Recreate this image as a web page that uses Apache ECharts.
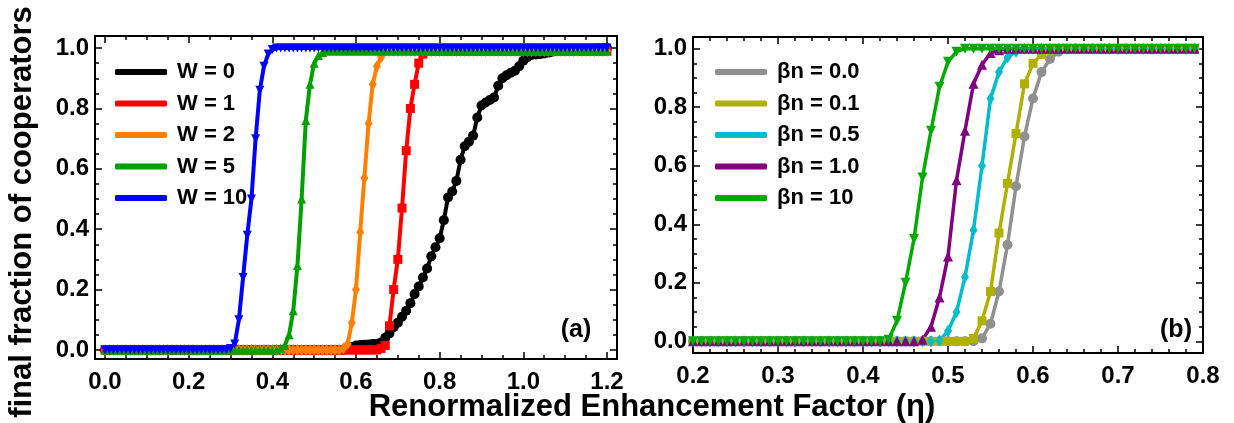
<!DOCTYPE html>
<html><head><meta charset="utf-8">
<script src="https://cdn.jsdelivr.net/npm/echarts@6/dist/echarts.min.js"></script>
<style>html,body{margin:0;padding:0;background:#fff}#c{width:1234px;height:423px}</style>
</head><body><div id="c"></div>
<script>
// ---------- Panel (a) ----------
const etaA = [
0,0.01,0.02,0.03,0.04,0.05,0.06,0.07,0.08,0.09,
0.1,0.11,0.12,0.13,0.14,0.15,0.16,0.17,0.18,0.19,
0.2,0.21,0.22,0.23,0.24,0.25,0.26,0.27,0.28,0.29,
0.3,0.31,0.32,0.33,0.34,0.35,0.36,0.37,0.38,0.39,
0.4,0.41,0.42,0.43,0.44,0.45,0.46,0.47,0.48,0.49,
0.5,0.51,0.52,0.53,0.54,0.55,0.56,0.57,0.58,0.59,
0.6,0.61,0.62,0.63,0.64,0.65,0.66,0.67,0.68,0.69,
0.7,0.71,0.72,0.73,0.74,0.75,0.76,0.77,0.78,0.79,
0.8,0.81,0.82,0.83,0.84,0.85,0.86,0.87,0.88,0.89,
0.9,0.91,0.92,0.93,0.94,0.95,0.96,0.97,0.98,0.99,
1.0,1.01,1.02,1.03,1.04,1.05,1.06,1.07,1.08,1.09,
1.1,1.11,1.12,1.13,1.14,1.15,1.16,1.17,1.18,1.19,
1.2];
const W0 = [
0,0,0,0,0,0,0,0,0,0,
0,0,0,0,0,0,0,0,0,0,
0,0,0,0,0,0,0,0,0,0,
0,0,0,0,0,0,0,0,0,0,
0,0,0,0,0,0,0,0,0,0,
0,0,0,0,0,0,0,0,
0.005,0.01,
0.015,0.016,0.017,0.018,0.02,0.02,0.025,0.04,0.055,0.075,
0.09,0.11,0.13,0.155,0.185,0.21,0.24,0.27,0.31,0.34,
0.37,0.43,0.505,0.525,0.56,0.63,0.675,0.69,0.71,0.77,
0.81,0.82,0.828,0.836,0.875,0.90,0.91,0.918,0.925,0.94,
0.958,0.97,0.977,0.979,0.98,0.982,0.985,0.988,0.991,0.992,
0.993,0.994,0.995,0.996,0.997,0.997,0.998,0.998,0.999,0.999,
1.0];
const W1 = [
0,0,0,0,0,0,0,0,0,0,
0,0,0,0,0,0,0,0,0,0,
0,0,0,0,0,0,0,0,0,0,
0,0,0,0,0,0,0,0,0,0,
0,0,0,0,0,0,0,0,0,0,
0,0,0,0,0,0,0,0,0,0,
0,0,0,0,0,0,
0.005,0.015,0.08,0.20,
0.30,0.47,0.66,0.80,0.88,0.95,0.98,
0.99,0.99,0.99,
0.99,0.99,0.99,0.99,0.99,0.99,0.99,0.99,0.99,0.99,
0.99,0.99,0.99,0.99,0.99,0.99,0.99,0.99,0.99,0.99,
0.99,0.99,0.99,0.99,0.99,0.99,0.99,0.99,0.99,0.99,
0.99,0.99,0.99,0.99,0.99,0.99,0.99,0.99,0.99,0.99,
0.99];
const W2 = [
0,0,0,0,0,0,0,0,0,0,
0,0,0,0,0,0,0,0,0,0,
0,0,0,0,0,0,0,0,0,0,
0,0,0,0,0,0,0,0,0,0,
0,0,0,0,0,0,0,0,0,0,
0,0,0,0,0,0,0,
0.005,0.02,0.09,
0.20,0.39,0.57,0.75,0.88,0.94,0.97,
0.99,0.99,0.99,
0.99,0.99,0.99,0.99,0.99,0.99,0.99,0.99,0.99,0.99,
0.99,0.99,0.99,0.99,0.99,0.99,0.99,0.99,0.99,0.99,
0.99,0.99,0.99,0.99,0.99,0.99,0.99,0.99,0.99,0.99,
0.99,0.99,0.99,0.99,0.99,0.99,0.99,0.99,0.99,0.99,
0.99,0.99,0.99,0.99,0.99,0.99,0.99,0.99,0.99,0.99,
0.99];
const W5 = [
0,0,0,0,0,0,0,0,0,0,
0,0,0,0,0,0,0,0,0,0,
0,0,0,0,0,0,0,0,0,0,
0,0,0,0,0,0,0,0,0,0,
0,0,
0.005,0.015,0.05,0.13,0.28,0.50,0.76,0.88,
0.95,0.975,0.985,
0.99,0.99,0.99,0.99,0.99,0.99,0.99,
0.99,0.99,0.99,0.99,0.99,0.99,0.99,0.99,0.99,0.99,
0.99,0.99,0.99,0.99,0.99,0.99,0.99,0.99,0.99,0.99,
0.99,0.99,0.99,0.99,0.99,0.99,0.99,0.99,0.99,0.99,
0.99,0.99,0.99,0.99,0.99,0.99,0.99,0.99,0.99,0.99,
0.99,0.99,0.99,0.99,0.99,0.99,0.99,0.99,0.99,0.99,
0.99,0.99,0.99,0.99,0.99,0.99,0.99,0.99,0.99,0.99,
0.99];
const W10 = [
0,0,0,0,0,0,0,0,0,0,
0,0,0,0,0,0,0,0,0,0,
0,0,0,0,0,0,0,0,0,0,
0.005,0.02,0.10,0.24,0.38,0.50,0.70,0.86,0.94,0.98,
0.995,1,1,1,1,1,1,1,1,1,
1,1,1,1,1,1,1,1,1,1,
1,1,1,1,1,1,1,1,1,1,
1,1,1,1,1,1,1,1,1,1,
1,1,1,1,1,1,1,1,1,1,
1,1,1,1,1,1,1,1,1,1,
1,1,1,1,1,1,1,1,1,1,
1,1,1,1,1,1,1,1,1,1,
1];
const namesA = ['W = 0','W = 1','W = 2','W = 5','W = 10'];
const xTicksA = [0,0.2,0.4,0.6,0.8,1.0,1.2];
const xMinorA = [0.05,0.1,0.15,0.25,0.3,0.35,0.45,0.5,0.55,0.65,0.7,0.75,0.85,0.9,0.95,1.05,1.1,1.15];

// ---------- Panel (b) ----------
const etaB = [
0.2,0.21,0.22,0.23,0.24,0.25,0.26,0.27,0.28,0.29,
0.3,0.31,0.32,0.33,0.34,0.35,0.36,0.37,0.38,0.39,
0.4,0.41,0.42,0.43,0.44,0.45,0.46,0.47,0.48,0.49,
0.5,0.51,0.52,0.53,0.54,0.55,0.56,0.57,0.58,0.59,
0.6,0.61,0.62,0.63,0.64,0.65,0.66,0.67,0.68,0.69,
0.7,0.71,0.72,0.73,0.74,0.75,0.76,0.77,0.78,0.79];
const B00 = [
0,0,0,0,0,0,0,0,0,0,
0,0,0,0,0,0,0,0,0,0,
0,0,0,0,0,0,0,0,0,0,
0,0,0,0,0.01,0.06,0.17,0.33,0.53,0.70,
0.83,0.92,0.965,0.99,1,1,1,1,1,1,
1,1,1,1,1,1,1,1,1,1];
const B01 = [
0,0,0,0,0,0,0,0,0,0,
0,0,0,0,0,0,0,0,0,0,
0,0,0,0,0,0,0,0,0,0,
0,0,0,0.01,0.07,0.17,0.37,0.54,0.71,0.88,
0.95,0.98,0.995,1,1,1,1,1,1,1,
1,1,1,1,1,1,1,1,1,1];
const B05 = [
0,0,0,0,0,0,0,0,0,0,
0,0,0,0,0,0,0,0,0,0,
0,0,0,0,0,0,0,0,0,0.003,
0.035,0.10,0.22,0.38,0.60,0.83,0.92,0.97,0.99,1,
1,1,1,1,1,1,1,1,1,1,
1,1,1,1,1,1,1,1,1,1];
const B10 = [
0,0,0,0,0,0,0,0,0,0,
0,0,0,0,0,0,0,0,0,0,
0,0,0,0,0,0,0,0.005,0.05,0.15,
0.29,0.55,0.72,0.88,0.945,0.985,0.995,1,1,1,
1,1,1,1,1,1,1,1,1,1,
1,1,1,1,1,1,1,1,1,1];
const B100 = [
0,0,0,0,0,0,0,0,0,0,
0,0,0,0,0,0,0,0,0,0,
0,0,0,0.005,0.07,0.20,0.35,0.56,0.72,0.87,
0.955,0.99,1,1,1,1,1,1,1,1,
1,1,1,1,1,1,1,1,1,1,
1,1,1,1,1,1,1,1,1,1];
const namesB = ['βn = 0.0','βn = 0.1','βn = 0.5','βn = 1.0','βn = 10'];
const xTicksB = [0.2,0.3,0.4,0.5,0.6,0.7,0.8];
const xMinorB = [0.22,0.24,0.26,0.28,0.32,0.34,0.36,0.38,0.42,0.44,0.46,0.48,0.52,0.54,0.56,0.58,0.62,0.64,0.66,0.68,0.72,0.74,0.76,0.78];

const yTicks = [0,0.2,0.4,0.6,0.8,1.0];
const yMinor = [0.05,0.1,0.15,0.25,0.3,0.35,0.45,0.5,0.55,0.65,0.7,0.75,0.85,0.9,0.95];

const FONT = '"Liberation Sans", Arial, sans-serif';
const chart = echarts.init(document.getElementById('c'), null, {renderer:'canvas'});

function axis(kind, grid, min, max, pos, vals, major, labels) {
  const a = {
    type:'value', gridIndex:grid, min:min, max:max, position:pos,
    axisLine:{show:major, onZero:false, lineStyle:{color:'#000', width:2}},
    axisTick:{show:true, inside:true, length: major?7:4, customValues: vals, lineStyle:{color:'#000', width:1.5}},
    axisLabel:{show:false},
    splitLine:{show:false}
  };
  if (labels) {
    a.axisLabel = {show:true, customValues: vals, color:'#000', fontSize:24, fontWeight:'bold', fontFamily:FONT,
      margin: kind==='x' ? 11 : 6, formatter: v => Number(v).toFixed(1)};
  }
  return a;
}

const xAxes = [
  axis('x',0,-0.024,1.224,'bottom',xTicksA,true,true),
  axis('x',0,-0.024,1.224,'bottom',xMinorA,false,false),
  axis('x',0,-0.024,1.224,'top',xTicksA,true,false),
  axis('x',0,-0.024,1.224,'top',xMinorA,false,false),
  axis('x',1,0.2,0.8,'bottom',xTicksB,true,true),
  axis('x',1,0.2,0.8,'bottom',xMinorB,false,false),
  axis('x',1,0.2,0.8,'top',xTicksB,true,false),
  axis('x',1,0.2,0.8,'top',xMinorB,false,false)
];
const yAxes = [
  axis('y',0,-0.03,1.04,'left',yTicks,true,true),
  axis('y',0,-0.03,1.04,'left',yMinor,false,false),
  axis('y',0,-0.03,1.04,'right',yTicks,true,false),
  axis('y',0,-0.03,1.04,'right',yMinor,false,false),
  axis('y',1,-0.04,1.04,'left',yTicks,true,true),
  axis('y',1,-0.04,1.04,'left',yMinor,false,false),
  axis('y',1,-0.04,1.04,'right',yTicks,true,false),
  axis('y',1,-0.04,1.04,'right',yMinor,false,false)
];

function ser(name, xs, ys, color, symbol, size, rotate, axisIdx, lw) {
  return {
    name:name, type:'line', xAxisIndex:axisIdx, yAxisIndex:axisIdx,
    data: xs.map((x,i)=>[x, ys[i]]),
    symbol:symbol, symbolSize:size, symbolRotate:rotate, showSymbol:true, showAllSymbol:true,
    lineStyle:{color:color, width:lw}, itemStyle:{color:color},
    emphasis:{disabled:true}, animation:false
  };
}

const series = [
  ser(namesA[0], etaA, W0, '#000000', 'circle', 10, 0, 0, 4),
  ser(namesA[1], etaA, W1, '#ff0000', 'rect', 9, 0, 0, 4),
  ser(namesA[2], etaA, W2, '#ff8000', 'diamond', [8,12], 0, 0, 4),
  ser(namesA[3], etaA, W5, '#00a000', 'triangle', 9, 0, 0, 4),
  ser(namesA[4], etaA, W10, '#0000ff', 'triangle', 9, 180, 0, 4),
  ser(namesB[0], etaB, B00, '#909090', 'circle', 10, 0, 4, 3.5),
  ser(namesB[1], etaB, B01, '#b0b000', 'rect', 9, 0, 4, 3.5),
  ser(namesB[2], etaB, B05, '#00bccc', 'diamond', [8,12], 0, 4, 3.5),
  ser(namesB[3], etaB, B10, '#800080', 'triangle', 10, 0, 4, 3.5),
  ser(namesB[4], etaB, B100, '#00aa00', 'triangle', 10, 180, 4, 3.5)
];

function legend(names, left) {
  return {
    data: names, orient:'vertical', left:left, top:56, itemWidth:52, itemHeight:6, itemGap:9.5,
    icon:'roundRect', selectedMode:false,
    textStyle:{fontSize:22, fontWeight:'bold', fontFamily:FONT, color:'#000', lineHeight:22, padding:[0,0,0,5]}
  };
}

chart.setOption({
  animation:false,
  backgroundColor:'#fff',
  grid:[
    {left:95, top:36, width:522, height:323},
    {left:693, top:37, width:510, height:316}
  ],
  xAxis:xAxes,
  yAxis:yAxes,
  legend:[legend(namesA,110), legend(namesB,710)],
  series:series,
  graphic:[
    {type:'text', x:22, y:212, rotation:Math.PI/2,
     style:{text:'final fraction of cooperators', fontSize:31, fontWeight:'bold', fontFamily:FONT, fill:'#000', align:'center', verticalAlign:'middle'}},
    {type:'text', x:652, y:407,
     style:{text:'Renormalized Enhancement Factor (η)', fontSize:31, fontWeight:'bold', fontFamily:FONT, fill:'#000', align:'center', verticalAlign:'middle'}},
    {type:'text', x:576, y:330,
     style:{text:'(a)', fontSize:25, fontWeight:'bold', fontFamily:FONT, fill:'#000', align:'center', verticalAlign:'middle'}},
    {type:'text', x:1176, y:330,
     style:{text:'(b)', fontSize:25, fontWeight:'bold', fontFamily:FONT, fill:'#000', align:'center', verticalAlign:'middle'}}
  ]
});
</script></body></html>
